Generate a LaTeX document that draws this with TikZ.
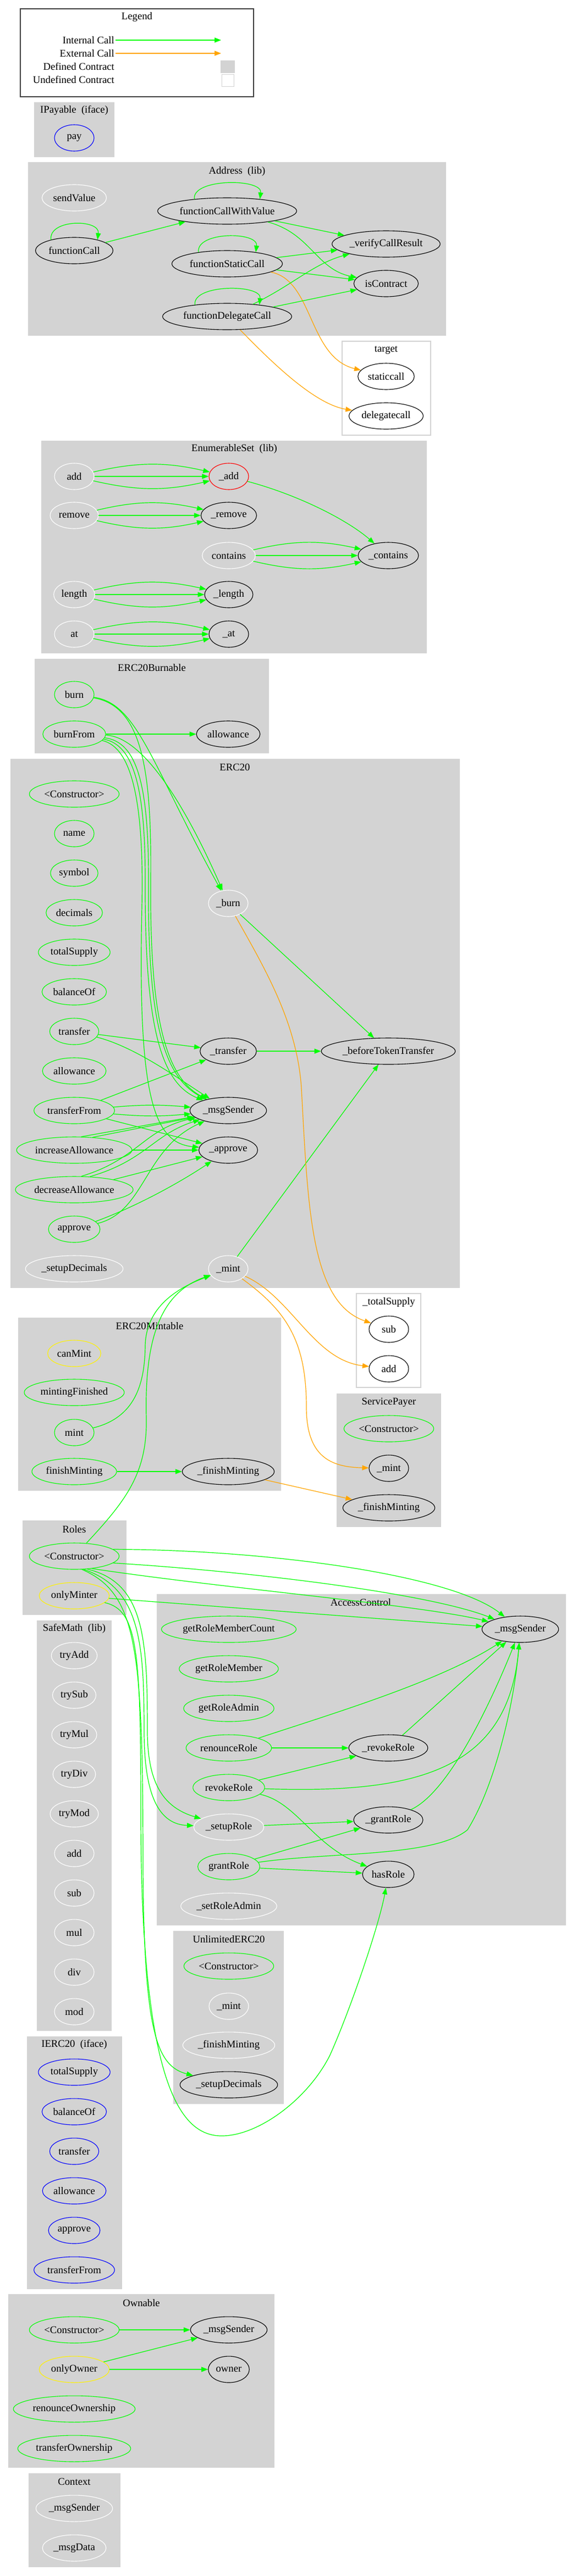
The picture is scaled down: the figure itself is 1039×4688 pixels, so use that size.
\documentclass[tikz,border=0pt]{standalone}
\usepackage{fontspec}
\setmainfont{Liberation Serif}
\usetikzlibrary{shapes.geometric,arrows.meta,positioning,calc}

\definecolor{callgreen}{HTML}{00FF00}
\definecolor{callorange}{HTML}{FFA500}
\definecolor{clustergray}{HTML}{D3D3D3}
\newcommand{\gvfont}{\fontsize{18.7}{22}\selectfont}

\tikzset{
  fnbase/.style={ellipse, draw, line width=1.1pt, minimum width=72pt, minimum height=48pt, inner xsep=3pt, inner ysep=1pt, font=\gvfont},
  fnpub/.style={fnbase, draw=callgreen},
  fnint/.style={fnbase, draw=white},
  fnext/.style={fnbase, draw=black},
  fniface/.style={fnbase, draw=blue},
  fnmodif/.style={fnbase, draw=yellow},
  fnred/.style={fnbase, draw=red},
  cluster/.style={fill=clustergray},
  extcluster/.style={fill=white, draw=clustergray, line width=1.3pt},
  ctitle/.style={font=\gvfont, inner sep=0pt},
  icall/.style={-{Triangle[length=12pt,width=9pt]}, draw=callgreen, line width=1.2pt},
  xcall/.style={-{Triangle[length=12pt,width=9pt]}, draw=callorange, line width=1.2pt},
}

\begin{document}
\begin{tikzpicture}[x=1pt, y=-1pt]
    \useasboundingbox (0,0) rectangle (1039,4688);
    \fill[white] (0,0) rectangle (1039,4688);

    % contract boxes
    \draw[line width=1.5pt, draw=black!75] (37,16) rectangle (461,176);
    \fill[cluster] (62,186) rectangle (208,286);
    \fill[cluster] (51,295) rectangle (811,611);
    \draw[extcluster] (622,621) rectangle (783,792);
    \fill[cluster] (75,802) rectangle (776,1189);
    \fill[cluster] (63,1199) rectangle (489,1371);
    \fill[cluster] (19,1381) rectangle (836,2344);
    \draw[extcluster] (648,2354) rectangle (765,2525);
    \fill[cluster] (33,2398) rectangle (511,2713);
    \fill[cluster] (612,2536) rectangle (802,2779);
    \fill[cluster] (41,2767) rectangle (230,2939);
    \fill[cluster] (67,2949) rectangle (203,3696);
    \fill[cluster] (285,2901) rectangle (1029,3504);
    \fill[cluster] (315,3514) rectangle (516,3829);
    \fill[cluster] (49,3706) rectangle (222,4166);
    \fill[cluster] (15,4175) rectangle (499,4491);
    \fill[cluster] (52,4501) rectangle (219,4672);

    % legend
    \node[ctitle] (legtitle) at (249,31) {Legend};
    \node[ctitle, inner xsep=2pt, anchor=east] (legint) at (210,73) {Internal Call};
    \node[ctitle, inner xsep=2pt, anchor=east] (legext) at (210,97) {External Call};
    \node[ctitle, inner xsep=2pt, anchor=east] (legdef) at (210,121) {Defined Contract};
    \node[ctitle, inner xsep=2pt, anchor=east] (legundef) at (210,145) {Undefined Contract};
    \coordinate (legintend) at (402,73);
    \coordinate (legextend) at (402,97);
    \node[fill=clustergray, minimum width=26pt, minimum height=23pt, inner sep=0pt] (legdefbox) at (414,121.5) {};
    \node[draw=clustergray, fill=white, line width=1pt, minimum width=22pt, minimum height=22pt, inner sep=0pt] (legundefbox) at (414,146.5) {};
    \draw[icall] (legint) -- (legintend);
    \draw[xcall] (legext) -- (legextend);

    % titles
    \node[ctitle] (tipayable) at (135,201) {IPayable\ \ (iface)};
    \node[ctitle] (taddress) at (431,312) {Address\ \ (lib)};
    \node[ctitle] (ttarget) at (702,637) {target};
    \node[ctitle] (tenumset) at (426,817) {EnumerableSet\ \ (lib)};
    \node[ctitle] (tburnable) at (276,1215) {ERC20Burnable};
    \node[ctitle] (terc) at (427,1396) {ERC20};
    \node[ctitle] (ttotalsupply) at (707,2370) {\_totalSupply};
    \node[ctitle] (tmintable) at (272,2413) {ERC20Mintable};
    \node[ctitle] (tservice) at (707,2552) {ServicePayer};
    \node[ctitle] (troles) at (135,2783) {Roles};
    \node[ctitle] (tsafemath) at (135,2964) {SafeMath\ \ (lib)};
    \node[ctitle] (taccess) at (656,2916) {AccessControl};
    \node[ctitle] (tunlimited) at (416,3529) {UnlimitedERC20};
    \node[ctitle] (tierc) at (135,3721) {IERC20\ \ (iface)};
    \node[ctitle] (townable) at (257,4191) {Ownable};
    \node[ctitle] (tcontext) at (135,4516) {Context};

    % IPayable
    \node[fniface] (pay) at (135,251) {pay};

    % Address
    \node[fnint] (sendvalue) at (135,360) {sendValue};
    \node[fnext] (fcall) at (135,456) {functionCall};
    \node[fnext] (fcallvalue) at (413,384) {functionCallWithValue};
    \node[fnext] (fstatic) at (413,480) {functionStaticCall};
    \node[fnext] (fdelegate) at (413,576) {functionDelegateCall};
    \node[fnext] (verifyresult) at (702,444) {\_verifyCallResult};
    \node[fnext] (iscontract) at (702,516) {isContract};
    \node[fnext] (staticcall) at (702,685) {staticcall};
    \node[fnext] (delegatecall) at (702,757) {delegatecall};

    % EnumerableSet
    \node[fnint] (esadd) at (135,867) {add};
    \node[fnred] (esuadd) at (416,867) {\_add};
    \node[fnint] (esremove) at (135,938) {remove};
    \node[fnext] (esuremove) at (416,938) {\_remove};
    \node[fnint] (escontains) at (416,1011) {contains};
    \node[fnext] (esucontains) at (706,1011) {\_contains};
    \node[fnint] (eslength) at (135,1082) {length};
    \node[fnext] (esulength) at (416,1082) {\_length};
    \node[fnint] (esat) at (135,1154) {at};
    \node[fnext] (esuat) at (416,1154) {\_at};

    % ERC20Burnable
    \node[fnpub] (burn) at (135,1264) {burn};
    \node[fnpub] (burnfrom) at (135,1336) {burnFrom};
    \node[fnext] (bballowance) at (415,1336) {allowance};

    % ERC20
    \node[fnpub] (ector) at (135,1445) {<Constructor>};
    \node[fnpub] (ename) at (135,1517) {name};
    \node[fnpub] (esymbol) at (135,1589) {symbol};
    \node[fnpub] (edecimals) at (135,1661) {decimals};
    \node[fnpub] (etotalsupply) at (135,1733) {totalSupply};
    \node[fnpub] (ebalanceof) at (135,1805) {balanceOf};
    \node[fnpub] (etransfer) at (135,1877) {transfer};
    \node[fnpub] (eallowance) at (135,1949) {allowance};
    \node[fnpub] (etransferfrom) at (135,2021) {transferFrom};
    \node[fnpub] (eincallow) at (135,2093) {increaseAllowance};
    \node[fnpub] (edecallow) at (135,2165) {decreaseAllowance};
    \node[fnpub] (eapprove) at (135,2237) {approve};
    \node[fnint] (esetupdec) at (135,2309) {\_setupDecimals};
    \node[fnint] (eburn) at (415,1644) {\_burn};
    \node[fnext] (etransferu) at (415,1913) {\_transfer};
    \node[fnext] (emsgsender) at (415,2021) {\_msgSender};
    \node[fnext] (eapproveu) at (415,2093) {\_approve};
    \node[fnint] (emint) at (415,2309) {\_mint};
    \node[fnext] (ebefore) at (706,1913) {\_beforeTokenTransfer};

    % _totalSupply
    \node[fnext] (tssub) at (707,2419) {sub};
    \node[fnext] (tsadd) at (707,2491) {add};

    % ERC20Mintable
    \node[fnmodif] (mcanmint) at (135,2463) {canMint};
    \node[fnpub] (mmintingfin) at (135,2534) {mintingFinished};
    \node[fnpub] (mmint) at (135,2607) {mint};
    \node[fnpub] (mfinish) at (135,2678) {finishMinting};
    \node[fnext] (mfinishu) at (415,2678) {\_finishMinting};

    % ServicePayer
    \node[fnpub] (spctor) at (707,2600) {<Constructor>};
    \node[fnext] (spmint) at (707,2672) {\_mint};
    \node[fnext] (spfinish) at (707,2744) {\_finishMinting};

    % Roles
    \node[fnpub] (rctor) at (135,2832) {<Constructor>};
    \node[fnmodif] (ronlyminter) at (135,2904) {onlyMinter};

    % SafeMath
    \node[fnint] (smtryadd) at (135,3013) {tryAdd};
    \node[fnint] (smtrysub) at (135,3085) {trySub};
    \node[fnint] (smtrymul) at (135,3157) {tryMul};
    \node[fnint] (smtrydiv) at (135,3229) {tryDiv};
    \node[fnint] (smtrymod) at (135,3301) {tryMod};
    \node[fnint] (smadd) at (135,3373) {add};
    \node[fnint] (smsub) at (135,3445) {sub};
    \node[fnint] (smmul) at (135,3517) {mul};
    \node[fnint] (smdiv) at (135,3589) {div};
    \node[fnint] (smmod) at (135,3661) {mod};

    % AccessControl
    \node[fnext] (acmsgsender) at (946,2965) {\_msgSender};
    \node[fnpub] (acmembercount) at (416,2965) {getRoleMemberCount};
    \node[fnpub] (acmember) at (416,3037) {getRoleMember};
    \node[fnpub] (acadmin) at (416,3109) {getRoleAdmin};
    \node[fnpub] (acrenounce) at (416,3181) {renounceRole};
    \node[fnext] (acrevokeu) at (706,3181) {\_revokeRole};
    \node[fnpub] (acrevoke) at (416,3253) {revokeRole};
    \node[fnext] (acgrantu) at (706,3312) {\_grantRole};
    \node[fnint] (acsetup) at (416,3325) {\_setupRole};
    \node[fnpub] (acgrant) at (416,3397) {grantRole};
    \node[fnext] (achasrole) at (706,3411) {hasRole};
    \node[fnint] (acsetadmin) at (416,3469) {\_setRoleAdmin};

    % UnlimitedERC20
    \node[fnpub] (uctor) at (416,3578) {<Constructor>};
    \node[fnint] (umint) at (416,3651) {\_mint};
    \node[fnint] (ufinish) at (416,3722) {\_finishMinting};
    \node[fnext] (usetupdec) at (416,3794) {\_setupDecimals};

    % IERC20
    \node[fniface] (itotal) at (135,3771) {totalSupply};
    \node[fniface] (ibalance) at (135,3843) {balanceOf};
    \node[fniface] (itransfer) at (135,3915) {transfer};
    \node[fniface] (iallowance) at (135,3987) {allowance};
    \node[fniface] (iapprove) at (135,4059) {approve};
    \node[fniface] (itransferfrom) at (135,4131) {transferFrom};

    % Ownable
    \node[fnpub] (octor) at (135,4240) {<Constructor>};
    \node[fnext] (omsgsender) at (416,4240) {\_msgSender};
    \node[fnmodif] (oonlyowner) at (135,4312) {onlyOwner};
    \node[fnext] (oowner) at (416,4312) {owner};
    \node[fnpub] (orenounce) at (135,4384) {renounceOwnership};
    \node[fnpub] (otransfer) at (135,4456) {transferOwnership};

    % Context
    \node[fnint] (cmsgsender) at (135,4565) {\_msgSender};
    \node[fnint] (cmsgdata) at (135,4637) {\_msgData};

    % Address calls
    \draw[icall] (fcall.155) .. controls +(-5,-38) and +(5,-38) .. (fcall.25);
    \draw[icall] (fcallvalue.160) .. controls +(-5,-38) and +(5,-38) .. (fcallvalue.20);
    \draw[icall] (fstatic.158) .. controls +(-5,-38) and +(5,-38) .. (fstatic.22);
    \draw[icall] (fdelegate.160) .. controls +(-5,-38) and +(5,-38) .. (fdelegate.20);
    \draw[icall] (fcall) -- (fcallvalue);
    \draw[icall] (fcallvalue) -- (verifyresult);
    \draw[icall] (fcallvalue) .. controls (565,425) and (575,490) .. (iscontract);
    \draw[icall] (fstatic) -- (verifyresult);
    \draw[icall] (fstatic) -- (iscontract);
    \draw[xcall] (fstatic) .. controls (570,510) and (560,650) .. (staticcall);
    \draw[icall] (fdelegate) .. controls (530,520) and (570,480) .. (verifyresult);
    \draw[icall] (fdelegate) -- (iscontract);
    \draw[xcall] (fdelegate) .. controls (490,655) and (570,735) .. (delegatecall);

    % EnumerableSet calls
    \draw[icall] (esadd) to[bend left=13] (esuadd);
    \draw[icall] (esadd) -- (esuadd);
    \draw[icall] (esadd) to[bend right=13] (esuadd);
    \draw[icall] (esremove) to[bend left=13] (esuremove);
    \draw[icall] (esremove) -- (esuremove);
    \draw[icall] (esremove) to[bend right=13] (esuremove);
    \draw[icall] (escontains) to[bend left=13] (esucontains);
    \draw[icall] (escontains) -- (esucontains);
    \draw[icall] (escontains) to[bend right=13] (esucontains);
    \draw[icall] (eslength) to[bend left=13] (esulength);
    \draw[icall] (eslength) -- (esulength);
    \draw[icall] (eslength) to[bend right=13] (esulength);
    \draw[icall] (esat) to[bend left=13] (esuat);
    \draw[icall] (esat) -- (esuat);
    \draw[icall] (esat) to[bend right=13] (esuat);
    \draw[icall] (esuadd) .. controls (540,900) and (630,945) .. (esucontains);

    % ERC20Burnable calls
    \draw[icall] (burnfrom) -- (bballowance);
    \draw[icall] (burn) .. controls (250,1280) and (275,1390) .. (eburn);
    \draw[icall] (burnfrom) .. controls (255,1340) and (330,1450) .. (eburn);
    \draw[icall] (burn) .. controls (258,1285) and (276,1400) .. (274,1600) .. controls (272,1850) and (300,1960) .. (emsgsender);
    \draw[icall] (burnfrom) .. controls (250,1350) and (270,1430) .. (270,1600) .. controls (268,1850) and (295,1960) .. (emsgsender);
    \draw[icall] (burnfrom) .. controls (245,1355) and (264,1440) .. (264,1600) .. controls (263,1860) and (290,1970) .. (emsgsender);
    \draw[icall] (burnfrom) .. controls (240,1360) and (262,1460) .. (258,1650) .. controls (250,2000) and (280,2080) .. (eapproveu);

    % ERC20 calls
    \draw[icall] (etransfer) -- (etransferu);
    \draw[icall] (etransfer) .. controls (245,1905) and (320,1960) .. (emsgsender);
    \draw[icall] (etransferfrom) -- (etransferu);
    \draw[icall] (etransferfrom) to[bend left=5] (emsgsender);
    \draw[icall] (etransferfrom) to[bend right=5] (emsgsender);
    \draw[icall] (etransferfrom) -- (eapproveu);
    \draw[icall] (eincallow) -- (eapproveu);
    \draw[icall] (eincallow.62) -- (emsgsender);
    \draw[icall] (eincallow.35) -- (emsgsender);
    \draw[icall] (edecallow) -- (eapproveu);
    \draw[icall] (edecallow.62) .. controls (250,2110) and (262,2055) .. (emsgsender);
    \draw[icall] (edecallow.40) .. controls (265,2112) and (278,2065) .. (emsgsender);
    \draw[icall] (eapprove) .. controls (250,2195) and (330,2150) .. (eapproveu);
    \draw[icall] (eapprove) .. controls (264,2205) and (262,2090) .. (emsgsender);
    \draw[icall] (etransferu) -- (ebefore);
    \draw[icall] (eburn) -- (ebefore);
    \draw[icall] (emint) -- (ebefore);
    \draw[xcall] (eburn) .. controls (480,1760) and (540,1860) .. (548,1980) .. controls (560,2200) and (565,2370) .. (tssub);
    \draw[xcall] (emint) .. controls (530,2360) and (570,2475) .. (tsadd);
    \draw[xcall] (emint) .. controls (520,2385) and (557,2440) .. (557,2560) .. controls (557,2650) and (600,2670) .. (spmint);

    % ERC20Mintable calls
    \draw[icall] (mmint) .. controls (245,2580) and (263,2520) .. (264,2450) .. controls (265,2380) and (320,2345) .. (emint);
    \draw[icall] (mfinish) -- (mfinishu);
    \draw[xcall] (mfinishu) -- (spfinish);

    % Roles calls
    \draw[icall] (rctor) .. controls (230,2730) and (268,2680) .. (266,2580) .. controls (262,2420) and (300,2350) .. (emint);
    \draw[icall] (rctor.10) .. controls (480,2820) and (820,2865) .. (acmsgsender);
    \draw[icall] (rctor.-10) .. controls (460,2860) and (780,2900) .. (acmsgsender);
    \draw[icall] (rctor.-35) .. controls (400,2890) and (760,2920) .. (acmsgsender);
    \draw[icall] (ronlyminter) -- (acmsgsender);
    \draw[icall] (rctor.-45) .. controls (262,2880) and (268,2980) .. (268,3150) .. controls (268,3250) and (300,3290) .. (acsetup);
    \draw[icall] (rctor.-55) .. controls (255,2890) and (262,2990) .. (262,3150) .. controls (262,3270) and (290,3320) .. (acsetup);
    \draw[icall] (rctor.-60) .. controls (250,2900) and (260,3000) .. (260,3400) .. controls (262,3700) and (285,3760) .. (usetupdec);
    \draw[icall] (ronlyminter) .. controls (250,2930) and (256,3000) .. (256,3300) .. controls (256,3800) and (330,3887) .. (403,3887) .. controls (470,3887) and (560,3820) .. (600,3740) .. controls (640,3650) and (690,3500) .. (achasrole);

    % AccessControl calls
    \draw[icall] (acrenounce) -- (acrevokeu);
    \draw[icall] (acrenounce) .. controls (600,3120) and (800,3060) .. (acmsgsender);
    \draw[icall] (acrevokeu) -- (acmsgsender);
    \draw[icall] (acrevoke) -- (acrevokeu);
    \draw[icall] (acrevoke) .. controls (760,3265) and (925,3220) .. (acmsgsender);
    \draw[icall] (acrevoke) .. controls (540,3280) and (570,3360) .. (achasrole);
    \draw[icall] (acgrantu) .. controls (820,3260) and (900,3080) .. (acmsgsender);
    \draw[icall] (acsetup) -- (acgrantu);
    \draw[icall] (acgrant) -- (acgrantu);
    \draw[icall] (acgrant) -- (achasrole);
    \draw[icall] (acgrant) .. controls (600,3370) and (790,3380) .. (850,3330) .. controls (900,3250) and (935,3100) .. (acmsgsender);

    % Ownable calls
    \draw[icall] (octor) -- (omsgsender);
    \draw[icall] (oonlyowner) -- (omsgsender);
    \draw[icall] (oonlyowner) -- (oowner);
\end{tikzpicture}
\end{document}
